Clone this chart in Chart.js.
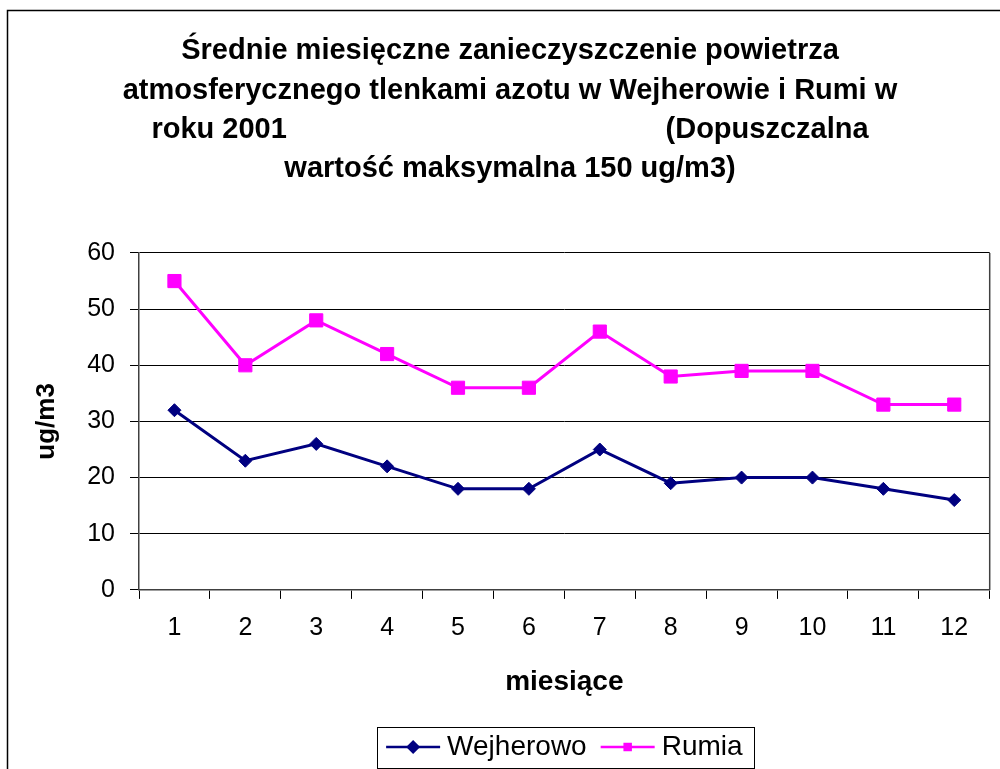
<!DOCTYPE html>
<html>
<head>
<meta charset="utf-8">
<title>Tlenki azotu 2001</title>
<script src="https://cdn.jsdelivr.net/npm/chart.js@4.4.1/dist/chart.umd.min.js"></script>
<style>
  html, body { margin: 0; padding: 0; background: #fff; }
  canvas { display: block; }
</style>
</head>
<body>
<canvas id="noxChart" width="1000" height="769"></canvas>
<script>
// -----------------------------
// DATA
// -----------------------------
const months = ['1', '2', '3', '4', '5', '6', '7', '8', '9', '10', '11', '12'];
const wejherowo = [32, 23, 26, 22, 18, 18, 25, 19, 20, 20, 18, 16];
const rumia = [55, 40, 48, 42, 36, 36, 46, 38, 39, 39, 33, 33];
const yMin = 0;
const yMax = 60;
const yStep = 10;

const titleLines = [
    'Średnie miesięczne zanieczyszczenie powietrza',
    'atmosferycznego tlenkami azotu w Wejherowie i Rumi w',
    'roku 2001' + ' '.repeat(47) + '(Dopuszczalna',
    'wartość maksymalna 150 ug/m3)'
];

const FONT = '"Liberation Sans", Arial, sans-serif';


// -----------------------------
// PLUGINS
// -----------------------------
// outer frame of the whole chart object + right edge of the plot
const outerFrame = {
    id: 'outerFrame',
    beforeDraw(chart) {
        const ctx = chart.ctx;
        ctx.save();
        ctx.fillStyle = '#fff';
        ctx.fillRect(0, 0, chart.width, chart.height);
        ctx.strokeStyle = '#000';
        ctx.lineWidth = 1.5;
        ctx.strokeRect(7.5, 10.5, 1200, 1200);
        ctx.restore();
    },
    afterDraw(chart) {
        const a = chart.chartArea;
        const ctx = chart.ctx;
        ctx.save();
        ctx.strokeStyle = '#404040';
        ctx.lineWidth = 1.5;
        ctx.beginPath();
        ctx.moveTo(a.right, a.top);
        ctx.lineTo(a.right, a.bottom);
        ctx.stroke();
        ctx.restore();
    }
};

// legend symbols (line + marker) and the box around the legend
const legendMarkerRadius = [7, 6];
const legendFrame = {
    id: 'legendFrame',
    afterDraw(chart) {
        const lg = chart.legend;
        if (!lg || !lg.legendHitBoxes || !lg.legendHitBoxes.length) return;
        const ctx = chart.ctx;
        const boxes = lg.legendHitBoxes;
        ctx.save();
        boxes.forEach((hb, i) => {
            const ds = chart.data.datasets[i];
            const cy = hb.top + hb.height / 2;
            ctx.strokeStyle = ds.borderColor;
            ctx.lineWidth = 2.5;
            ctx.beginPath();
            ctx.moveTo(hb.left, cy);
            ctx.lineTo(hb.left + 54, cy);
            ctx.stroke();
            ctx.fillStyle = ds.pointBackgroundColor;
            Chart.helpers.drawPoint(ctx, {
                pointStyle: ds.pointStyle,
                radius: legendMarkerRadius[i],
                rotation: 0,
                borderWidth: 0
            }, hb.left + 27, cy);
        });
        const first = boxes[0];
        const last = boxes[boxes.length - 1];
        const cy = first.top + first.height / 2;
        const l = Math.round(first.left - 9) + 0.5;
        const r = Math.round(last.left + last.width + 11) + 0.5;
        const t = Math.round(cy - 20.5) + 0.5;
        ctx.strokeStyle = '#000';
        ctx.lineWidth = 1;
        ctx.strokeRect(l, t, r - l, 41);
        ctx.restore();
    }
};


// -----------------------------
// CHART
// -----------------------------
const ctx = document.getElementById('noxChart').getContext('2d');
new Chart(ctx, {
    type: 'line',
    data: {
        labels: months,
        datasets: [{
            label: 'Wejherowo',
            data: wejherowo,
            borderColor: '#000080',
            backgroundColor: '#000080',
            pointBackgroundColor: '#000080',
            pointBorderColor: '#000080',
            pointStyle: 'rectRot',
            pointRadius: 6.5,
            pointBorderWidth: 1,
            borderWidth: 3,
            tension: 0
        }, {
            label: 'Rumia',
            data: rumia,
            borderColor: '#FF00FF',
            backgroundColor: '#FF00FF',
            pointBackgroundColor: '#FF00FF',
            pointBorderColor: '#FF00FF',
            pointStyle: 'rect',
            pointRadius: 9.3,
            pointBorderWidth: 1,
            borderWidth: 3,
            tension: 0
        }]
    },
    options: {
        responsive: false,
        animation: false,
        layout: {
            padding: { left: 25, right: 5, top: 0, bottom: -2 }
        },
        plugins: {
            title: {
                display: true,
                text: titleLines,
                color: '#000',
                font: { family: FONT, size: 29, weight: 'bold', lineHeight: 1.355 },
                padding: { top: 31.6, bottom: 64.2 }
            },
            legend: {
                display: true,
                position: 'bottom',
                fullSize: false,
                labels: {
                    color: '#000',
                    font: { family: FONT, size: 28 },
                    boxWidth: 47,
                    boxHeight: 28,
                    padding: 14,
                    generateLabels(chart) {
                        const items = Chart.defaults.plugins.legend.labels.generateLabels(chart);
                        items.forEach(it => {
                            it.fillStyle = 'rgba(0,0,0,0)';
                            it.strokeStyle = 'rgba(0,0,0,0)';
                            it.lineWidth = 0;
                        });
                        return items;
                    }
                }
            },
            tooltip: { enabled: false }
        },
        scales: {
            x: {
                offset: true,
                grid: {
                    offset: true,
                    drawOnChartArea: false,
                    color: '#000',
                    tickLength: 9
                },
                border: { color: '#404040', width: 1.5 },
                ticks: {
                    color: '#000',
                    font: { family: FONT, size: 25 },
                    padding: 14,
                    maxRotation: 0
                },
                title: {
                    display: true,
                    text: 'miesiące',
                    color: '#000',
                    font: { family: FONT, size: 28, weight: 'bold' },
                    padding: { top: 9, bottom: 19.5 }
                }
            },
            y: {
                min: yMin,
                max: yMax,
                afterFit(scale) { scale.width = 114; },
                grid: {
                    color: '#000',
                    lineWidth: 1,
                    tickLength: 9
                },
                border: { color: '#404040', width: 1.5 },
                ticks: {
                    stepSize: yStep,
                    color: '#000',
                    font: { family: FONT, size: 25 },
                    padding: 15
                },
                title: {
                    display: true,
                    text: 'ug/m3',
                    color: '#000',
                    font: { family: FONT, size: 26, weight: 'bold' },
                    padding: { top: 6, bottom: 0 }
                }
            }
        }
    },
    plugins: [outerFrame, legendFrame]
});
</script>
</body>
</html>
